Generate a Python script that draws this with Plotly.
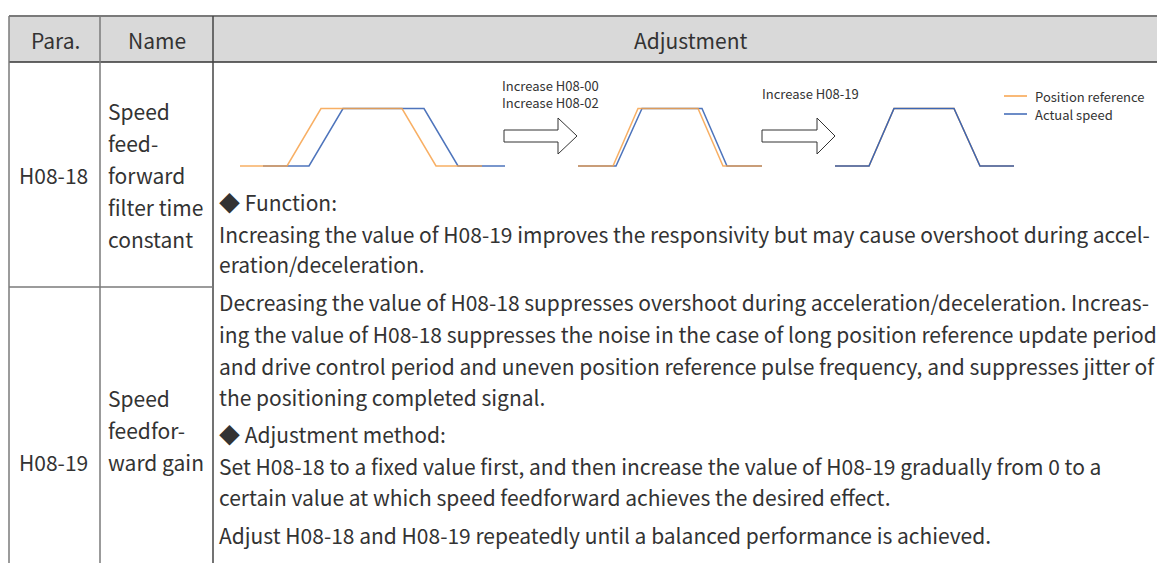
import plotly.graph_objects as go

W, H = 1165, 563
OFF = 8  # default page body margin
FW, FH = W - OFF, H - OFF
FONT = "Noto Sans CJK SC"
TXT = "#333333"
ORANGE = "#f7a24a"
BLUE = "#3b66b5"

# ---------------- data ----------------
levels = [0, 0, 1, 1, 0, 0]
# chart 1: before tuning
c1_ref_t = [0, 47, 81, 162, 196, 242]
c1_act_t = [23, 69, 103, 184, 218, 265]
# chart 2: after increasing H08-00 / H08-02
c2_ref_t = [0, 35, 60, 120, 145, 184]
c2_act_t = [0, 38, 64, 124, 149, 184]
# chart 3: after increasing H08-19
c3_ref_t = [0, 34, 59, 119, 145, 179]
c3_act_t = [0, 34, 59, 119, 145, 179]

series_names = ["Position reference", "Actual speed"]
arrow_labels = [["Increase H08-00", "Increase H08-02"], ["Increase H08-19"]]

header = ["Para.", "Name", "Adjustment"]
params = ["H08-18", "H08-19"]
names = [["Speed", "feed-", "forward", "filter time", "constant"],
         ["Speed", "feedfor-", "ward gain"]]
body = [
    "◆ Function:",
    "Increasing the value of H08-19 improves the responsivity but may cause overshoot during accel-",
    "eration/deceleration.",
    "Decreasing the value of H08-18 suppresses overshoot during acceleration/deceleration. Increas-",
    "ing the value of H08-18 suppresses the noise in the case of long position reference update period",
    "and drive control period and uneven position reference pulse frequency, and suppresses jitter of",
    "the positioning completed signal.",
    "◆ Adjustment method:",
    "Set H08-18 to a fixed value first, and then increase the value of H08-19 gradually from 0 to a",
    "certain value at which speed feedforward achieves the desired effect.",
    "Adjust H08-18 and H08-19 repeatedly until a balanced performance is achieved.",
]
body_y = [202, 234, 264, 302, 334, 366, 397, 434, 466, 497, 535]

fig = go.Figure()

def px_x(v):
    return (v - OFF) / FW

def px_y(v):
    return 1 - (v - OFF) / FH

# mini-chart placement (pixels)
mini = [
    (240, 505, 265, (c1_ref_t, c1_act_t)),
    (578, 762, 184, (c2_ref_t, c2_act_t)),
    (835, 1014, 179, (c3_ref_t, c3_act_t)),
]
base_y, top_y = 166, 108.5
unit = base_y - top_y
pad_t = 4
layout_axes = {}
for i, (x0, x1, span, (rt, at)) in enumerate(mini, start=2):
    scale = (x1 - x0) / span
    xa, ya = f"xaxis{i}", f"yaxis{i}"
    layout_axes[xa] = dict(domain=[px_x(x0 - pad_t * scale), px_x(x1 + pad_t * scale)],
                           range=[-pad_t, span + pad_t], visible=False, fixedrange=True)
    layout_axes[ya] = dict(domain=[px_y(base_y + 0.2 * unit), px_y(top_y - 0.2 * unit)],
                           range=[-0.2, 1.2], visible=False, fixedrange=True)
    if i < 4:
        fig.add_trace(go.Scatter(x=at, y=levels, mode="lines", name=series_names[1],
                                 line=dict(color=BLUE, width=1.5), opacity=0.9,
                                 xaxis=f"x{i}", yaxis=f"y{i}", showlegend=False, hoverinfo="skip"))
        fig.add_trace(go.Scatter(x=rt, y=levels, mode="lines", name=series_names[0],
                                 line=dict(color=ORANGE, width=1.5), opacity=0.85,
                                 xaxis=f"x{i}", yaxis=f"y{i}", showlegend=False, hoverinfo="skip"))
    else:
        fig.add_trace(go.Scatter(x=rt, y=levels, mode="lines", name=series_names[0],
                                 line=dict(color=ORANGE, width=1.5),
                                 xaxis=f"x{i}", yaxis=f"y{i}", showlegend=False, hoverinfo="skip"))
        fig.add_trace(go.Scatter(x=at, y=levels, mode="lines", name=series_names[1],
                                 line=dict(color=BLUE, width=1.5),
                                 xaxis=f"x{i}", yaxis=f"y{i}", showlegend=False, hoverinfo="skip"))

shapes = []
LINE_G = "#7a7a7a"
shapes.append(dict(type="rect", x0=9, x1=1165, y0=16, y1=62, fillcolor="#d9d9d9",
                   line=dict(width=0), layer="below"))
shapes.append(dict(type="line", x0=9, x1=1165, y0=16, y1=16, line=dict(color=LINE_G, width=2)))
shapes.append(dict(type="line", x0=9, x1=1165, y0=62, y1=62, line=dict(color="#333333", width=1.5)))
for xv, col in [(9, LINE_G), (100, LINE_G), (213, "#444444")]:
    shapes.append(dict(type="line", x0=xv, x1=xv, y0=16, y1=563, line=dict(color=col, width=1.5)))
shapes.append(dict(type="line", x0=9, x1=213, y0=287, y1=287, line=dict(color=LINE_G, width=1.5)))

def arrow(x0, xh, xt, yc):
    return dict(type="path",
                path=f"M{x0},{yc-6} L{xh},{yc-6} L{xh},{yc-18} L{xt},{yc} L{xh},{yc+18} "
                     f"L{xh},{yc+6} L{x0},{yc+6} Z",
                fillcolor="white", line=dict(color="#333333", width=1))
shapes.append(arrow(504, 558, 577, 136))
shapes.append(arrow(762, 817, 835, 136))

shapes.append(dict(type="line", x0=1004, x1=1027, y0=96, y1=96, line=dict(color=ORANGE, width=1.5)))
shapes.append(dict(type="line", x0=1004, x1=1027, y0=114, y1=114, line=dict(color=BLUE, width=1.5)))

ann = []
def txt(x, y, s, size=21, xanchor="left", color=TXT):
    ann.append(dict(x=x, y=y, xref="x", yref="y", text=s, showarrow=False,
                    xanchor=xanchor, yanchor="middle",
                    font=dict(family=FONT, size=size, color=color)))

txt(55, 40, header[0], xanchor="center")
txt(157, 40, header[1], xanchor="center")
txt(690, 40, header[2], xanchor="center")
txt(53, 175, params[0], xanchor="center")
txt(53, 462, params[1], xanchor="center")
for k, s in enumerate(names[0]):
    txt(106, 111 + 32 * k, s)
for k, s in enumerate(names[1]):
    txt(106, 398 + 32 * k, s)
for s, yv in zip(body, body_y):
    txt(217, yv, s)

txt(500, 85, arrow_labels[0][0], size=13)
txt(500, 102, arrow_labels[0][1], size=13)
txt(760, 93, arrow_labels[1][0], size=13)
txt(1033, 96, series_names[0], size=13)
txt(1033, 114, series_names[1], size=13)

fig.update_layout(
    width=FW, height=FH, margin=dict(l=0, r=0, t=0, b=0),
    paper_bgcolor="white", plot_bgcolor="rgba(0,0,0,0)",
    xaxis=dict(domain=[0, 1], range=[OFF, W], visible=False, fixedrange=True),
    yaxis=dict(domain=[0, 1], range=[H, OFF], visible=False, fixedrange=True),
    shapes=shapes, annotations=ann, showlegend=False,
    **layout_axes,
)
fig.write_html("out.html")
